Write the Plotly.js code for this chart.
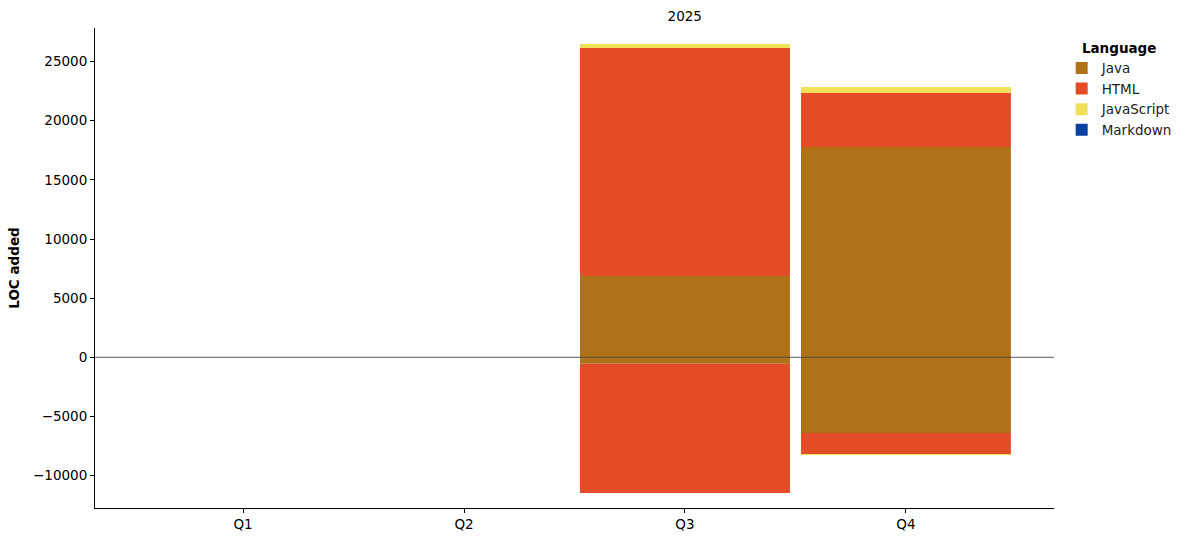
<!DOCTYPE html>
<html>
<head>
<meta charset="utf-8">
<script src="https://cdn.plot.ly/plotly-3.0.1.min.js"></script>
<style>html,body{margin:0;padding:0;background:#fff}#chart{width:1193px;height:542px}</style>
</head>
<body>
<div id="chart"></div>
<script>
const quarters = ["Q1", "Q2", "Q3", "Q4"];
const languages = ["Java", "HTML", "JavaScript", "Markdown"];
const colors = ["#b07219", "#e34c26", "#f1e05a", "#083fa1"];
// added (positive) and removed (negative) LOC per language per quarter
const javaAdded = [0, 0, 6870, 17780];
const htmlAdded = [0, 0, 19280, 4560];
const jsAdded = [0, 0, 340, 510];
const mdAdded = [0, 0, 0, 0];
const javaRemoved = [0, 0, -540, -6400];
const htmlRemoved = [0, 0, -10930, -1780];
const jsRemoved = [0, 0, 0, -70];
const mdRemoved = [0, 0, 0, 0];
const yTicks = [-10000, -5000, 0, 5000, 10000, 15000, 20000, 25000];
const yTickText = ["\u221210000", "\u22125000", "0", "5000", "10000", "15000", "20000", "25000"];

const added = [javaAdded, htmlAdded, jsAdded, mdAdded];
const removed = [javaRemoved, htmlRemoved, jsRemoved, mdRemoved];
const traces = [];
languages.forEach((lang, i) => {
  traces.push({type: "bar", x: quarters, y: added[i], name: lang, legendgroup: lang,
    marker: {color: colors[i], line: {width: 0}}, showlegend: true});
});
languages.forEach((lang, i) => {
  traces.push({type: "bar", x: quarters, y: removed[i], name: lang, legendgroup: lang,
    marker: {color: colors[i], line: {width: 0}}, showlegend: false});
});

const font = {family: "DejaVu Sans, sans-serif", size: 13.5, color: "#000"};
const layout = {
  width: 1193, height: 542,
  margin: {l: 95, r: 139, t: 28, b: 34},
  paper_bgcolor: "#fff", plot_bgcolor: "#fff",
  font: font,
  barmode: "relative",
  bargap: 0.05,
  title: {text: "2025", font: {family: font.family, size: 13.5, color: "#000"}, x: 0.615, xref: "paper", xanchor: "center", y: 0.979, yanchor: "top"},
  xaxis: {
    type: "category", range: [-0.67, 3.67], showline: true, linecolor: "#000", linewidth: 1,
    ticks: "outside", ticklen: 4, tickcolor: "#000", showgrid: false, zeroline: false,
    tickfont: font
  },
  yaxis: {
    range: [-12740, 27840], showline: true, linecolor: "#000", linewidth: 1,
    ticks: "outside", ticklen: 4, tickcolor: "#000", showgrid: false, zeroline: false,
    tickvals: yTicks, ticktext: yTickText, tickfont: font,
    title: {text: "<b>LOC added</b>", font: {family: font.family, size: 13.5, color: "#000"}, standoff: 10}
  },
  legend: {
    x: 1.008, y: 0.985, xanchor: "left", yanchor: "top",
    title: {text: "<b>Language</b>", side: "top center", font: {family: font.family, size: 13.5, color: "#000"}},
    font: {family: font.family, size: 13.5, color: "#222"},
    bgcolor: "rgba(255,255,255,0)", tracegroupgap: 0, traceorder: "normal"
  },
  shapes: [{type: "line", xref: "paper", x0: 0, x1: 1, yref: "y", y0: 0, y1: 0,
    line: {color: "#333", width: 0.8}, layer: "above"}]
};
Plotly.newPlot("chart", traces, layout, {displayModeBar: false, staticPlot: true});
</script>
</body>
</html>
